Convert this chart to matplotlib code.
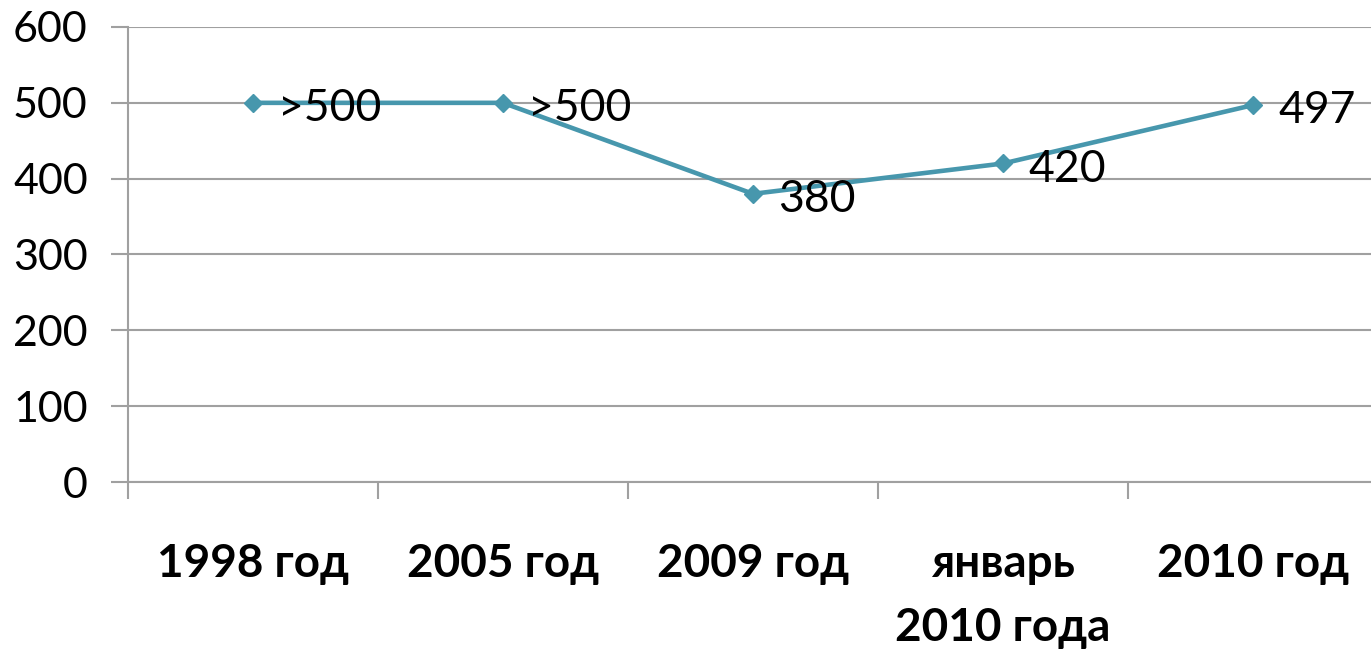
import matplotlib
matplotlib.use("Agg")
import matplotlib.pyplot as plt
import numpy as np

categories = ["1998 год", "2005 год", "2009 год", "январь\n2010 года", "2010 год"]
values = [500, 500, 380, 420, 497]
point_labels = [">500", ">500", "380", "420", "497"]
y_ticks = [0, 100, 200, 300, 400, 500, 600]

plt.rcParams["font.family"] = ["Lato", "DejaVu Sans"]

W, H = 1371, 654
fig = plt.figure(figsize=(W / 100, H / 100), dpi=100)
ax = fig.add_axes([128 / W, (H - 482) / H, 1250 / W, 455 / H])

grid_c = "#a0a0a0"
x = np.arange(len(values))
ax.plot(x, values, color="#4797ad", lw=3.3, marker="D", ms=9.5, zorder=3)
for xi, v, lab in zip(x, values, point_labels):
    ax.annotate(lab, (xi, v), xytext=(18, -4), textcoords="offset points",
                ha="left", va="center", fontsize=32, color="black", zorder=4)

ax.set_xlim(-0.5, len(values) - 0.5)
ax.set_ylim(0, 600)
ax.set_yticks(y_ticks)
ax.yaxis.grid(True, color=grid_c, lw=1.5)
ax.set_axisbelow(True)
for s in ["top", "right"]:
    ax.spines[s].set_visible(False)
ax.spines["left"].set_color(grid_c)
ax.spines["left"].set_linewidth(1.5)
ax.spines["bottom"].set_color(grid_c)
ax.spines["bottom"].set_linewidth(1.5)

ax.set_xticks(np.arange(len(values) + 1) - 0.5, minor=True)
ax.set_xticks(x)
ax.set_xticklabels(categories, fontsize=33, fontweight="bold", linespacing=1.65)
ax.tick_params(axis="x", which="major", length=0, pad=44)
ax.tick_params(axis="x", which="minor", length=12, color=grid_c, width=1.5)
ax.tick_params(axis="y", length=12, color=grid_c, width=1.5, labelsize=31, pad=17)

fig.savefig("out.png", dpi=100)
